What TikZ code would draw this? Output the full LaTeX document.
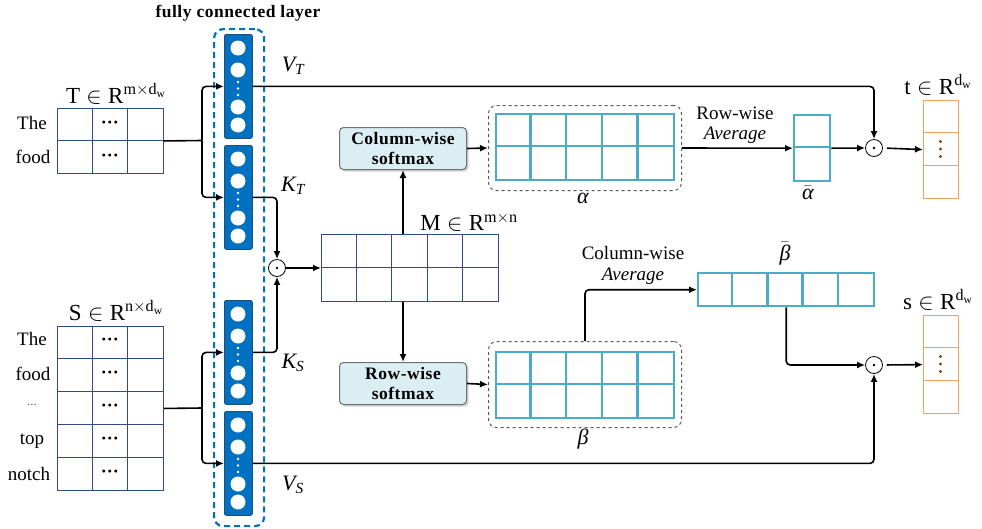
\RequirePackage{fix-cm}
\documentclass[tikz,border=0pt]{standalone}
\usepackage{fontspec}
\setmainfont{Liberation Serif}
\usetikzlibrary{arrows.meta,shadows}
\definecolor{fcblue}{HTML}{0070C0}
\definecolor{fcedge}{HTML}{1F4E79}
\definecolor{navy}{HTML}{2F4B8A}
\definecolor{tealc}{HTML}{4BACC6}
\definecolor{orng}{HTML}{F7A25C}
\definecolor{brwn}{HTML}{843C0C}
\definecolor{boxfill}{HTML}{DAEEF3}
\definecolor{boxedge}{HTML}{6F6F6F}
\definecolor{dgray}{HTML}{595959}
\tikzset{
  conn/.style={line width=1.6pt, rounded corners=4pt},
  arr/.style={conn, -{Latex[length=8pt,width=7pt]}},
  navymat/.style={draw=navy, line width=0.9pt, inner sep=0pt, anchor=north west},
  navyline/.style={navy, line width=0.9pt},
  tealmat/.style={draw=tealc, line width=2.4pt, inner sep=0pt, anchor=north west},
  tealline/.style={tealc, line width=2.4pt},
  orngmat/.style={draw=orng, line width=1.2pt, inner sep=0pt, anchor=north west, minimum width=35pt, minimum height=98pt},
  orngline/.style={orng, line width=1.2pt},
  fcblock/.style={draw=fcedge, fill=fcblue, rounded corners=2pt, line width=0.8pt, minimum width=28pt, minimum height=104pt, inner sep=0pt, anchor=north west},
  softbox/.style={draw=boxedge, fill=boxfill, rounded corners=4pt, line width=1pt, minimum width=127pt, minimum height=42pt, anchor=north west, inner sep=0pt, align=center, font=\bfseries\fontsize{17.5}{20}\selectfont\addfontfeature{LetterSpace=3}, drop shadow={shadow xshift=2pt, shadow yshift=-2pt, opacity=0.35}},
  dashbox/.style={draw=dgray, dashed, line width=1pt, rounded corners=8pt, anchor=north west, inner sep=0pt},
  odotc/.style={circle, draw, line width=0.8pt, minimum size=17pt, inner sep=0pt},
  lbl/.style={font=\fontsize{19}{21}\selectfont, inner sep=0pt},
  mlbl/.style={font=\fontsize{22}{24}\selectfont, inner sep=0pt},
  dotlbl/.style={font=\bfseries\fontsize{18}{20}\selectfont, inner sep=0pt},
  biglbl/.style={font=\fontsize{23}{25}\selectfont, inner sep=0pt},
  smlbl/.style={font=\fontsize{19}{21}\selectfont, inner sep=0pt},
}
\newcommand{\fcinner}[2]{%
  \foreach \o in {14,36,73,91} \fill[white] (#1,#2+\o) circle (7.5);
  \foreach \o in {48,54.5,61} \fill[white] (#1,#2+\o) circle (1.4);
}
\newcommand{\vecdots}[2]{%
  \foreach \o in {-7.5,0,7.5} \fill[brwn] (#1,#2+\o) circle (1.6);
}
\begin{document}
\begin{tikzpicture}[x=1pt,y=-1pt]
\useasboundingbox (0,0) rectangle (982,528);

% fully connected layer
\node[font=\bfseries\fontsize{17.5}{19}\selectfont\addfontfeature{LetterSpace=3}, inner sep=0pt] (fctitle) at (238,13) {fully connected layer};
\node[draw=fcblue, dash pattern=on 6pt off 4pt, line width=2.2pt, rounded corners=9pt, minimum width=50pt, minimum height=497pt, anchor=north west, inner sep=0pt] (fc) at (213,28) {};
\node[fcblock] (fc1) at (224,34) {};
\node[fcblock] (fc2) at (224,145) {};
\node[fcblock] (fc3) at (224,300) {};
\node[fcblock] (fc4) at (224,411) {};
\fcinner{238}{34}
\fcinner{238}{145}
\fcinner{238}{300}
\fcinner{238}{411}

% T matrix
\node[navymat, minimum width=106pt, minimum height=65pt] (T) at (57,108) {};
\foreach \x in {92.3,127.7} \draw[navyline] (\x,108) -- (\x,173);
\draw[navyline] (57,140.5) -- (163,140.5);
\node[dotlbl] (Tdots1) at (110,125) {···};
\node[dotlbl] (Tdots2) at (110,158) {···};
\node[lbl] (tw1) at (32,123) {The};
\node[lbl] (tw2) at (33,157) {food};
\node[biglbl] (Tlbl) at (116,94) {$\mathrm{T}\in\mathrm{R}^{\mathrm{m}\times\mathrm{d_w}}$};

% S matrix
\node[navymat, minimum width=106pt, minimum height=164pt] (S) at (57,326) {};
\foreach \x in {92.3,127.7} \draw[navyline] (\x,326) -- (\x,490);
\foreach \y in {358.8,391.6,424.4,457.2} \draw[navyline] (57,\y) -- (163,\y);
\foreach \y/\n in {342/1,375/2,408/3,441/4,474/5} \node[dotlbl] (Sdots\n) at (110,\y) {···};
\node[lbl] (sw1) at (32,339) {The};
\node[lbl] (sw2) at (33,374) {food};
\node[font=\fontsize{13}{14}\selectfont, text=dgray, inner sep=0pt] (sw3) at (32,405) {...};
\node[lbl] (sw4) at (32,441) {top};
\node[lbl] (sw5) at (29,474) {notch};
\node[biglbl] (Slbl) at (116,311) {$\mathrm{S}\in\mathrm{R}^{\mathrm{n}\times\mathrm{d_w}}$};

% split connectors
\coordinate (tsplit) at (202,140.5);
\draw[conn] (T.east) -- (tsplit);
\draw[arr] (tsplit) |- (fc1.west);
\draw[arr] (tsplit) |- (fc2.west);
\coordinate (ssplit) at (202,408);
\draw[conn] (S.east) -- (ssplit);
\draw[arr] (ssplit) |- (fc3.west);
\draw[arr] (ssplit) |- (fc4.west);

% odot nodes
\node[odotc] (dm) at (277,268) {};
\fill (dm.center) circle (1.3);
\node[odotc] (dt) at (874,148) {};
\fill (dt.center) circle (1.3);
\node[odotc] (ds) at (874,365) {};
\fill (ds.center) circle (1.3);

% FC outputs
\draw[arr] (fc1.east) -| (dt.north);
\draw[arr] (fc2.east) -| (dm.north);
\draw[arr] (fc3.east) -| (dm.south);
\draw[arr] (fc4.east) -| (ds.south);
\node[mlbl] (VT) at (293,66) {$\mathit{V}_{\mathit{T}}$};
\node[mlbl] (KT) at (293,186) {$\mathit{K}_{\mathit{T}}$};
\node[mlbl] (KS) at (293,363) {$\mathit{K}_{\mathit{S}}$};
\node[mlbl] (VS) at (293,485) {$\mathit{V}_{\mathit{S}}$};

% M matrix
\node[navymat, minimum width=177pt, minimum height=67pt] (M) at (321,234) {};
\foreach \x in {356.4,391.8,427.2,462.6} \draw[navyline] (\x,234) -- (\x,301);
\draw[navyline] (321,267.5) -- (498,267.5);
\node[biglbl] (Mlbl) at (469,222) {$\mathrm{M}\in\mathrm{R}^{\mathrm{m}\times\mathrm{n}}$};
\draw[arr] (dm.east) -- (M.west);

% softmax boxes
\node[softbox] (csm) at (339,127) {Column-wise\\softmax};
\node[softbox] (rsm) at (339,362) {Row-wise\\softmax};
\draw[arr] (csm.south |- M.north) -- (csm.south);
\draw[arr] (rsm.north |- M.south) -- (rsm.north);

% alpha
\node[dashbox, minimum width=193pt, minimum height=85pt] (abox) at (488,105) {};
\node[tealmat, minimum width=178pt, minimum height=66pt] (agrid) at (495,113) {};
\foreach \x in {530.6,566.2,601.8,637.4} \draw[tealline] (\x,113) -- (\x,179);
\draw[tealline] (495,146) -- (673,146);
\node[mlbl] (albl) at (583,198) {\textit{α}};
\draw[arr] (csm.east) -- (abox.west);

% beta
\node[dashbox, minimum width=193pt, minimum height=86pt] (bbox) at (488,341) {};
\node[tealmat, minimum width=178pt, minimum height=66pt] (bgrid) at (495,351) {};
\foreach \x in {530.6,566.2,601.8,637.4} \draw[tealline] (\x,351) -- (\x,417);
\draw[tealline] (495,384) -- (673,384);
\node[mlbl] (blbl) at (583,439) {\textit{β}};
\draw[arr] (rsm.east) -- (bbox.west);

% alpha bar
\node[tealmat, minimum width=36pt, minimum height=66pt] (abar) at (793,114) {};
\draw[tealline] (793,147) -- (829,147);
\node[mlbl] (ablbl) at (808,193) {$\bar{\textit{α}}$};
\draw[arr] (abox.east) -- (abar.west);
\node[smlbl] (rwa1) at (735,113) {Row-wise};
\node[smlbl] (rwa2) at (735,135) {\textit{Average}};
\draw[arr] (abar.east) -- (dt.west);

% beta bar
\node[tealmat, minimum width=176pt, minimum height=33pt] (bbar) at (697,272) {};
\foreach \x in {732.2,767.4,802.6,837.8} \draw[tealline] (\x,272) -- (\x,305);
\node[mlbl] (bblbl) at (785,254) {$\bar{\textit{β}}$};
\draw[arr] (bbox.north) |- (bbar.west);
\node[smlbl] (cwa1) at (633,253) {Column-wise};
\node[smlbl] (cwa2) at (633,276) {\textit{Average}};
\draw[arr] (bbar.south) |- (ds.west);

% t vector
\node[orngmat] (tvec) at (923,100) {};
\foreach \y in {132.7,165.3} \draw[orngline] (923,\y) -- (958,\y);
\vecdots{940.5}{149}
\node[biglbl] (tlbl) at (938,85) {$\mathrm{t}\in\mathrm{R}^{\mathrm{d_w}}$};
\draw[arr, shorten <=4pt] (dt.east) -- (tvec.west);

% s vector
\node[orngmat] (svec) at (923,315) {};
\foreach \y in {347.7,380.3} \draw[orngline] (923,\y) -- (958,\y);
\vecdots{940.5}{364}
\node[biglbl] (slbl) at (938,300) {$\mathrm{s}\in\mathrm{R}^{\mathrm{d_w}}$};
\draw[arr, shorten <=4pt] (ds.east) -- (svec.west);
\end{tikzpicture}
\end{document}
